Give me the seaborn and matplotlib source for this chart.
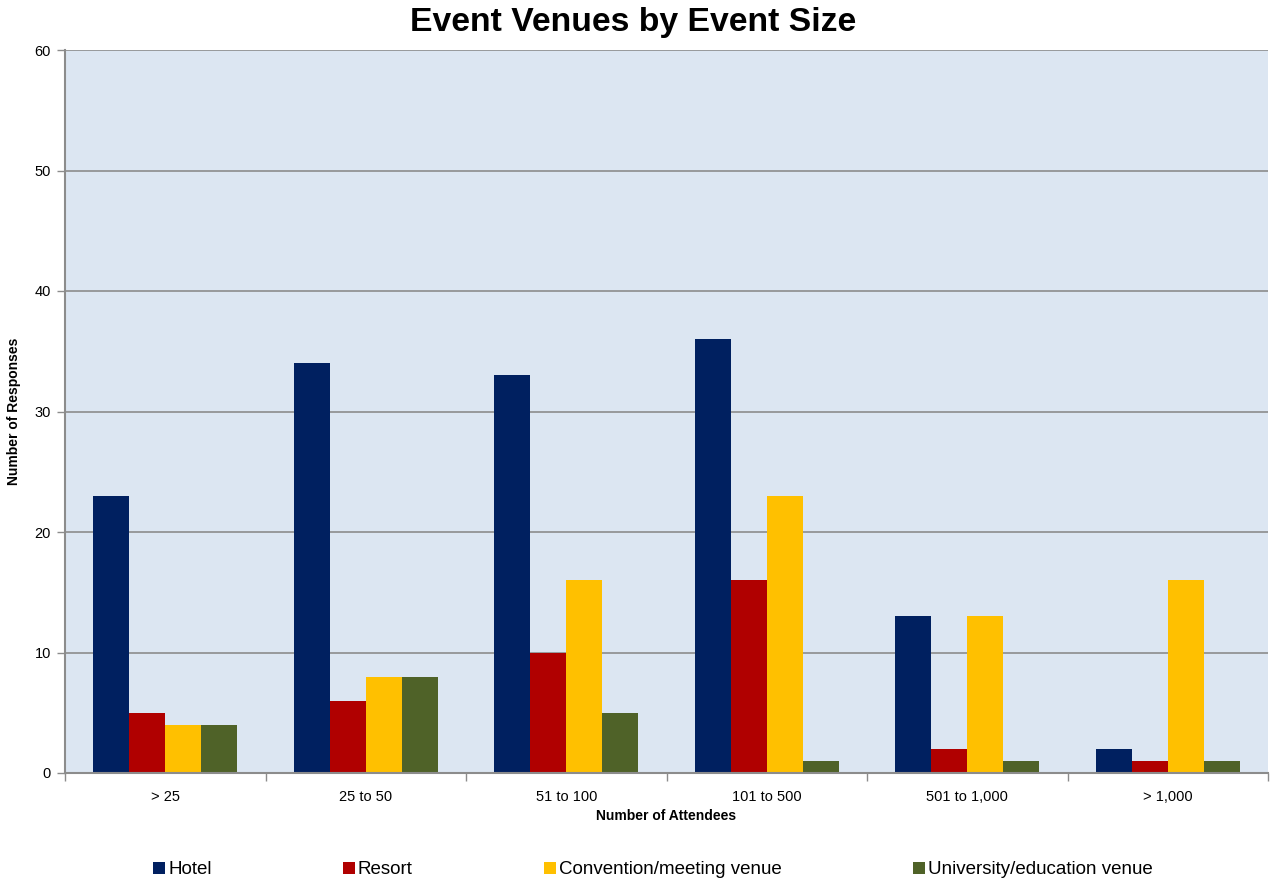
import matplotlib
matplotlib.use("Agg")
import matplotlib.pyplot as plt
import seaborn as sns
import pandas as pd
from matplotlib.patches import Patch
from matplotlib.ticker import FixedLocator

categories = ["> 25", "25 to 50", "51 to 100", "101 to 500", "501 to 1,000", "> 1,000"]
venues = ["Hotel", "Resort", "Convention/meeting venue", "University/education venue"]
hotel = [23, 34, 33, 36, 13, 2]
resort = [5, 6, 10, 16, 2, 1]
convention = [4, 8, 16, 23, 13, 16]
university = [4, 8, 5, 1, 1, 1]
colors = ["#002060", "#B00000", "#FFC000", "#4F6228"]

rows = []
for venue, vals in zip(venues, [hotel, resort, convention, university]):
    for cat, v in zip(categories, vals):
        rows.append({"Size": cat, "Venue": venue, "Responses": v})
df = pd.DataFrame(rows)

sns.set_theme(style="white")
plt.rcParams["font.family"] = ["Liberation Sans", "DejaVu Sans"]
plt.rcParams["text.color"] = "black"
plt.rcParams["axes.labelcolor"] = "black"
plt.rcParams["xtick.color"] = "black"
plt.rcParams["ytick.color"] = "black"

fig = plt.figure(figsize=(12.76, 8.82), dpi=100)
ax = fig.add_axes([65 / 1276, 1 - 773 / 882, (1268 - 65) / 1276, (773 - 50) / 882])
ax.set_facecolor("#DCE6F2")

sns.barplot(data=df, x="Size", y="Responses", hue="Venue", order=categories,
            hue_order=venues, palette=colors, width=0.72, gap=0, ax=ax,
            legend=False, saturation=1, edgecolor="none", linewidth=0)

ax.set_xlim(-0.5, len(categories) - 0.5)
ax.set_ylim(0, 60)
ax.set_yticks(range(0, 61, 10))
ax.yaxis.grid(True, color="#8C8C8C", linewidth=1.2)
ax.set_axisbelow(True)
for side in ["top", "right"]:
    ax.spines[side].set_visible(False)
for side in ["left", "bottom"]:
    ax.spines[side].set_color("#8C8C8C")
    ax.spines[side].set_linewidth(1.5)

ax.tick_params(axis="y", which="major", length=6, width=1, color="#8C8C8C",
               labelcolor="black", labelsize=10.5, pad=4, left=True)
ax.tick_params(axis="x", which="major", length=0, labelcolor="black", labelsize=10.5, pad=12)
ax.xaxis.set_minor_locator(FixedLocator([i - 0.5 for i in range(len(categories) + 1)]))
ax.tick_params(axis="x", which="minor", length=6, width=1, color="#8C8C8C", bottom=True)

ax.set_xlabel("Number of Attendees", fontsize=10, fontweight="bold", labelpad=4, color="black")
ax.set_ylabel("Number of Responses", fontsize=10, fontweight="bold", labelpad=10, color="black")

fig.suptitle("Event Venues by Event Size", x=633 / 1276, y=1 - 23 / 882,
             fontsize=24.3, fontweight="bold", va="center", color="black")

handles = [Patch(facecolor=c, edgecolor="none") for c in colors]
fig.legend(handles, venues, loc="center left", bbox_to_anchor=(153 / 1276, 1 - 870 / 882),
           ncol=4, frameon=False, fontsize=13.5, handlelength=0.65, handleheight=0.65,
           handletextpad=0.15, columnspacing=7.0, borderaxespad=0, borderpad=0,
           labelcolor="black")

fig.savefig("out.png", dpi=100)
